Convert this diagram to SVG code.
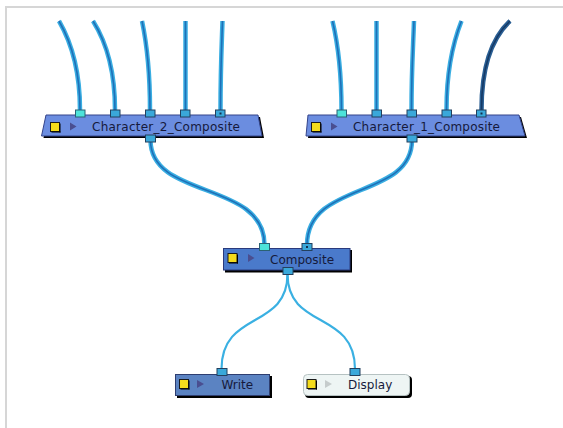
<svg xmlns="http://www.w3.org/2000/svg" width="563" height="428" viewBox="0 0 563 428">
<style>
.frame{fill:#d6d6d6}
.wo{fill:none;stroke:#3aaee2;stroke-width:4.5;stroke-linecap:butt}
.wi{fill:none;stroke:#1f70b8;stroke-width:1.6}
.wdo{fill:none;stroke:#2a5f94;stroke-width:4.5}
.wdi{fill:none;stroke:#163a66;stroke-width:1.6}
.thin{fill:none;stroke:#3ab0e2;stroke-width:2.2}
.shadow{fill:#000}
.lbl{font-family:"DejaVu Sans","Liberation Sans",sans-serif;font-size:12px;fill:#161a3c}
.yel{fill:#f4dc1c;stroke:#1a1a1a;stroke-width:1}
.tri{fill:#4a4e90}
.port{fill:#3aa8da;stroke:#23405e;stroke-width:1}
.pin{fill:#4de3da;stroke:#2a6274;stroke-width:1}
.dot{fill:#13304e}
</style>
<rect class="frame" x="5" y="6" width="558" height="2"/>
<rect class="frame" x="5" y="6" width="2" height="422"/>

<g id="connectors">
  <path class="wo" d="M59,21 C70,40 80,70 80,110"/><path class="wi" d="M59,21 C70,40 80,70 80,110"/>
  <path class="wo" d="M93,21 C105,40 115,70 115,110"/><path class="wi" d="M93,21 C105,40 115,70 115,110"/>
  <path class="wo" d="M142,21 C146,40 150,70 150,110"/><path class="wi" d="M142,21 C146,40 150,70 150,110"/>
  <path class="wo" d="M185.5,21 L185.5,110"/><path class="wi" d="M185.5,21 L185.5,110"/>
  <path class="wo" d="M222.5,21 C221.5,50 220.5,70 220.5,110"/><path class="wi" d="M222.5,21 C221.5,50 220.5,70 220.5,110"/>

  <path class="wo" d="M332.5,21 C337,40 341.5,70 341.5,110"/><path class="wi" d="M332.5,21 C337,40 341.5,70 341.5,110"/>
  <path class="wo" d="M376.5,21 L376.5,110"/><path class="wi" d="M376.5,21 L376.5,110"/>
  <path class="wo" d="M414,21 C413,50 411.5,70 411.5,110"/><path class="wi" d="M414,21 C413,50 411.5,70 411.5,110"/>
  <path class="wo" d="M461.5,21 C454,40 446.5,70 446.5,110"/><path class="wi" d="M461.5,21 C454,40 446.5,70 446.5,110"/>
  <path class="wdo" d="M510,21 C495,35 481.5,60 481.5,110"/><path class="wdi" d="M510,21 C495,35 481.5,60 481.5,110"/>

  <path class="wo" d="M150.5,140 C150.5,200 264.5,180 264.5,245"/><path class="wi" d="M150.5,140 C150.5,200 264.5,180 264.5,245"/>
  <path class="wo" d="M412,140 C412,200 307,180 307,245"/><path class="wi" d="M412,140 C412,200 307,180 307,245"/>

  <path class="thin" d="M287.5,274 C287.5,330 221.5,310 221.5,369"/>
  <path class="thin" d="M287.5,274 C287.5,330 355,310 355,369"/>
</g>

<g id="char2">
  <polygon class="shadow" points="48,117 260,117 264,138 43.5,138"/>
  <polygon points="46,115 258,115 262,136 41.5,136" fill="#6b8de0" stroke="#34448a" stroke-width="1"/>
  <rect class="yel" x="50.5" y="122.5" width="9" height="9"/>
  <rect x="59.5" y="123.5" width="1" height="9" fill="#000"/><rect x="51.5" y="131.5" width="9" height="1" fill="#000"/>
  <polygon class="tri" points="70,122.5 70,130.5 76.5,126.5"/>
  <text class="lbl" x="92" y="131" textLength="148" lengthAdjust="spacing">Character_2_Composite</text>
  <rect class="pin" x="75.5" y="110" width="9.5" height="7"/>
  <rect class="port" x="110.5" y="110" width="9.5" height="7"/>
  <rect class="port" x="145.5" y="110" width="9.5" height="7"/>
  <rect class="port" x="180.5" y="110" width="9.5" height="7"/>
  <rect class="port" x="215.5" y="110" width="9.5" height="7"/>
  <rect class="dot" x="219.5" y="112.5" width="2" height="2"/>
  <rect class="port" x="145.5" y="135" width="10" height="7"/>
</g>

<g id="char1">
  <polygon class="shadow" points="310,117 521,117 527,138 308,138"/>
  <polygon points="308,115 519,115 525,136 306,136" fill="#6b8de0" stroke="#34448a" stroke-width="1"/>
  <rect class="yel" x="311.5" y="122.5" width="9" height="9"/>
  <rect x="320.5" y="123.5" width="1" height="9" fill="#000"/><rect x="312.5" y="131.5" width="9" height="1" fill="#000"/>
  <polygon class="tri" points="331,122.5 331,130.5 337.5,126.5"/>
  <text class="lbl" x="353" y="131" textLength="147" lengthAdjust="spacing">Character_1_Composite</text>
  <rect class="pin" x="337" y="110" width="9.5" height="7"/>
  <rect class="port" x="372" y="110" width="9.5" height="7"/>
  <rect class="port" x="407" y="110" width="9.5" height="7"/>
  <rect class="port" x="442" y="110" width="9.5" height="7"/>
  <rect class="port" x="476.5" y="110" width="9.5" height="7"/>
  <rect class="dot" x="480.5" y="112.5" width="2" height="2"/>
  <rect class="port" x="407" y="135" width="10" height="7"/>
</g>

<g id="composite">
  <rect class="shadow" x="225" y="250" width="127" height="22.5"/>
  <rect x="223.5" y="248.5" width="126.5" height="21.5" fill="#4a7acb" stroke="#2a3a7c" stroke-width="1"/>
  <rect class="yel" x="228" y="253.5" width="9" height="9"/>
  <rect x="237" y="254.5" width="1" height="9" fill="#000"/><rect x="229" y="262.5" width="9" height="1" fill="#000"/>
  <polygon class="tri" points="248,254 248,262 254.5,258"/>
  <text class="lbl" x="270" y="264">Composite</text>
  <rect class="pin" x="259.5" y="243.5" width="10" height="7"/>
  <rect class="port" x="302" y="243.5" width="10" height="7"/>
  <rect class="dot" x="306" y="246" width="2" height="2"/>
  <rect class="port" x="283" y="267.5" width="10" height="7"/>
</g>

<g id="write">
  <rect class="shadow" x="177" y="376" width="95" height="22"/>
  <rect x="175.5" y="374.5" width="94" height="21" fill="#5b83c2" stroke="#2e3e70" stroke-width="1"/>
  <rect class="yel" x="179.5" y="379.5" width="9" height="9"/>
  <rect x="188.5" y="380.5" width="1" height="9" fill="#000"/><rect x="180.5" y="388.5" width="9" height="1" fill="#000"/>
  <polygon class="tri" points="197,380 197,388 204,384"/>
  <text class="lbl" x="221.5" y="389">Write</text>
  <rect class="port" x="217" y="368.5" width="10" height="7"/>
</g>

<g id="display">
  <rect class="shadow" x="305" y="376" width="107" height="22" rx="4"/>
  <rect x="303.5" y="374.5" width="106" height="21" rx="4" fill="#eef5f4" stroke="#b6c2c2" stroke-width="1"/>
  <rect class="yel" x="307" y="379.5" width="9" height="9"/>
  <rect x="316" y="380.5" width="1" height="9" fill="#000"/><rect x="308" y="388.5" width="9" height="1" fill="#000"/>
  <polygon points="325,380 325,388 332,384" fill="#c6cccc"/>
  <text class="lbl" x="348" y="389">Display</text>
  <rect class="port" x="350" y="368.5" width="10" height="7"/>
</g>
</svg>
